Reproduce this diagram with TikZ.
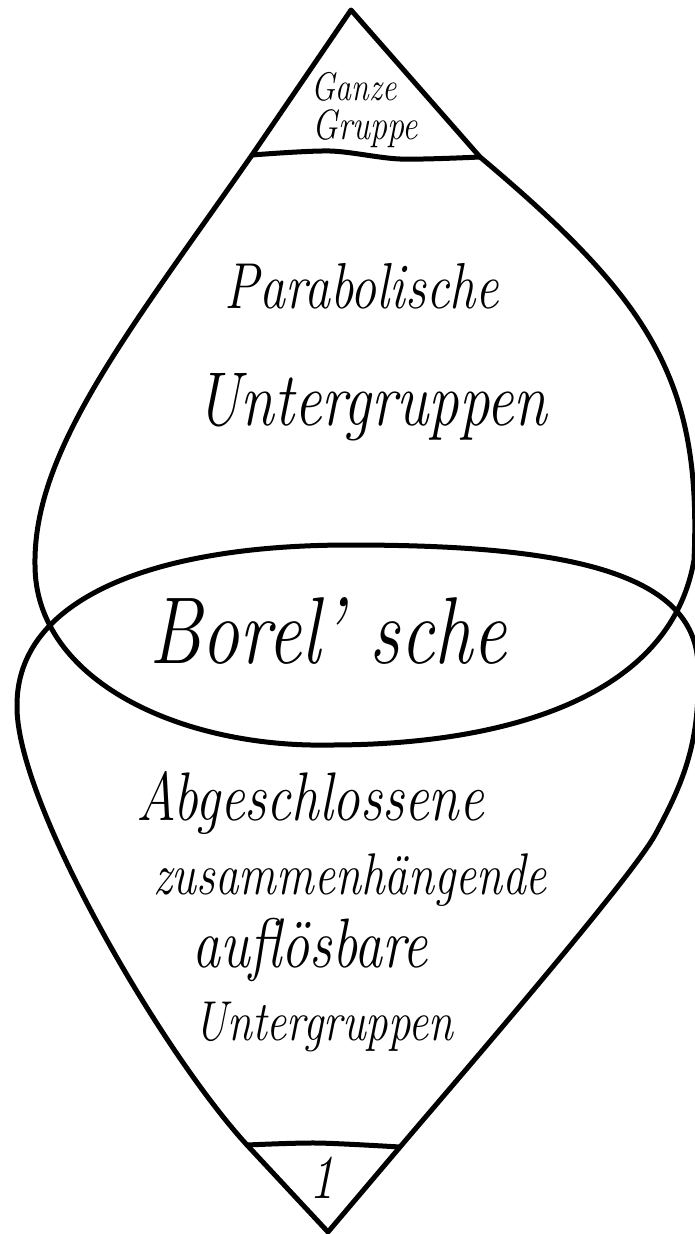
\documentclass[tikz,border=0pt]{standalone}
\usepackage{fontspec}
\usepackage{graphicx}
\newcommand\tallhand[1]{\scalebox{1}[1.25]{#1}}

\begin{document}
\begin{tikzpicture}[x=1pt,y=-1pt,line width=5pt,line join=round,line cap=round,
hand/.style={font=\itshape\fontsize{#1}{#1}\selectfont,anchor=base,inner sep=0pt}]
\useasboundingbox (0,0) rectangle (694,1234);
\coordinate (top) at (351,10);\coordinate (tl) at (252,155);\coordinate (tr) at (480,157);
\coordinate (bot) at (328,1232);\coordinate (bl) at (247,1145);\coordinate (br) at (400,1147);
\draw (tr) -- (top) -- (tl) .. controls (130,330) and (33,450) .. (35,565)
  .. controls (35,680) and (180,748) .. (330,745) .. controls (500,745) and (670,700) .. (694,560)
  .. controls (702,380) and (650,300) .. (tr);
\draw (bl) -- (bot) -- (br) .. controls (450,1088) and (630,880) .. (655,835)
  .. controls (685,780) and (700,740) .. (698,670) .. controls (700,570) and (560,545) .. (350,545)
  .. controls (150,545) and (17,600) .. (17,705) .. controls (15,800) and (160,1050) .. (bl);
\draw plot[smooth] coordinates {(tl) (330,151) (400,159) (tr)};
\draw plot[smooth] coordinates {(bl) (317,1143) (br)};
\node[hand=32] (ganze) at (354,100) {\tallhand{Ganze}};
\node[hand=34] (gruppe) at (365,139) {\tallhand{Gruppe}};
\node[hand=52] (parab1) at (362,308) {\tallhand{Parabolische}};
\node[hand=61] (parab2) at (372,425) {\tallhand{Untergruppen}};
\node[hand=76] (borel) at (328,663) {\tallhand{Borel' sche}};
\node[hand=55] (abg1) at (310,820) {\tallhand{Abgeschlossene}};
\node[hand=47] (abg2) at (350,894) {\tallhand{zusammenhängende}};
\node[hand=56] (abg3) at (310,967) {\tallhand{auflösbare}};
\node[hand=45] (abg4) at (324,1040) {\tallhand{Untergruppen}};
\node[hand=50] (eins) at (322,1198) {\tallhand{1}};
\end{tikzpicture}
\end{document}
